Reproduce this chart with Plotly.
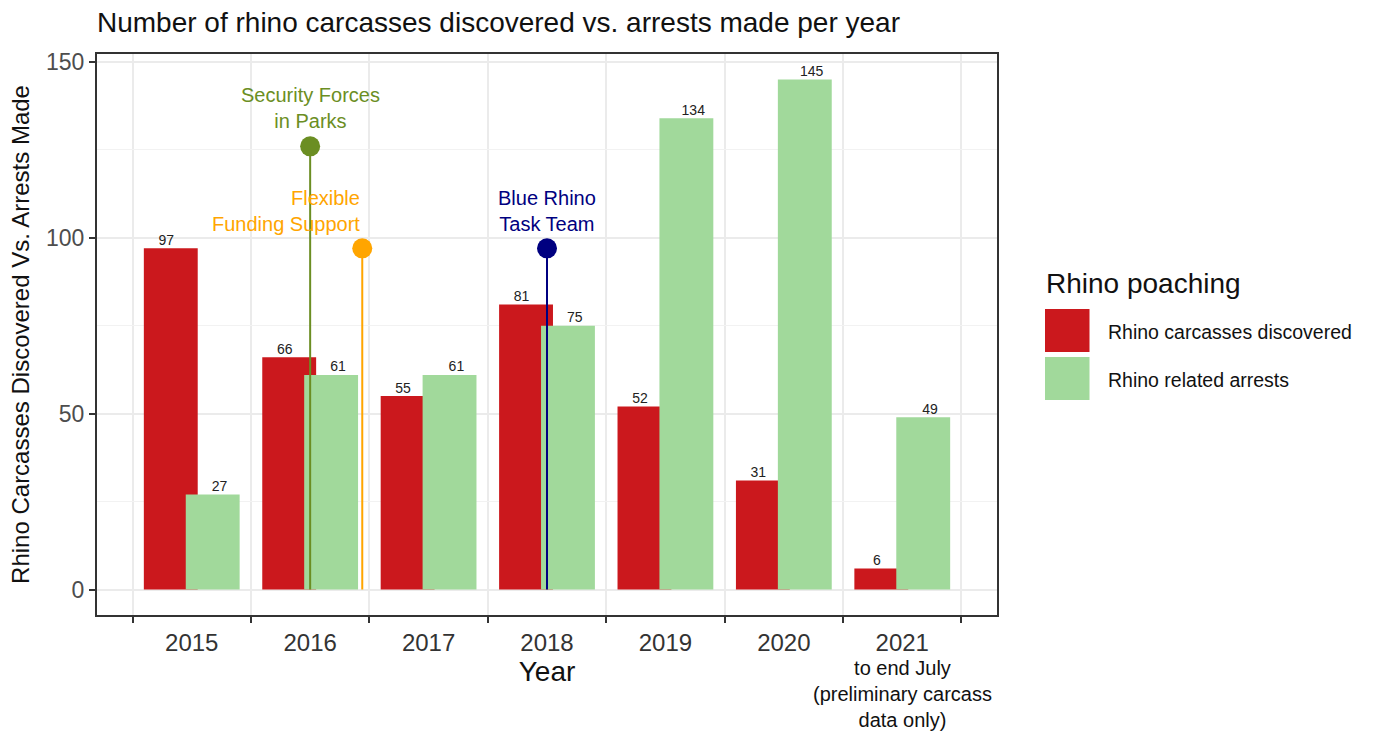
import plotly.graph_objects as go

# ---------------- data ----------------
years = [2015, 2016, 2017, 2018, 2019, 2020, 2021]
year_labels = ["2015", "2016", "2017", "2018", "2019", "2020", "2021"]
carcasses = [97, 66, 55, 81, 52, 31, 6]
arrests = [27, 61, 61, 75, 134, 145, 49]
note_2021 = "to end July<br>(preliminary carcass<br>data only)"

series_names = ["Rhino carcasses discovered", "Rhino related arrests"]
series_colors = ["#CB181D", "#A1D99B"]
legend_title = "Rhino poaching"

event_names = ["Security Forces<br>in Parks", "Flexible<br>Funding Support", "Blue Rhino<br>Task Team"]
event_x = [2016.0, 2016.44, 2018.0]
event_y = [126, 97, 97]
event_label_y = [136.8, 107.7, 107.7]
event_anchor = ["center", "right", "center"]
event_colors = ["#6B8E23", "#FFA500", "#000080"]

y_ticks = [0, 50, 100, 150]
y_minor = [25, 75, 125]
x_bounds = [2014.5 + i for i in range(8)]

title = "Number of rhino carcasses discovered vs. arrests made per year"
x_title = "Year"
y_title = "Rhino Carcasses Discovered Vs. Arrests Made"

# ---------------- layout constants ----------------
W, H = 1394, 733
L, R, T, B = 97, 997, 54, 615
FONT = "Liberation Sans, Arial, sans-serif"
BAR_W = 0.455
DODGE = 0.177
LABEL_DX = [-0.215, 0.235]


def px_x(p):
    return (p - L) / (R - L)


def px_y(p):
    return (B - p) / (B - T)


fig = go.Figure()

for vals, col, sgn in zip([carcasses, arrests], series_colors, [-1, 1]):
    fig.add_trace(go.Bar(
        x=years, y=vals, width=BAR_W, offset=sgn * DODGE - BAR_W / 2,
        marker=dict(color=col, line=dict(width=0)), opacity=1, showlegend=False,
        hoverinfo="skip"))

for vals, dx in zip([carcasses, arrests], LABEL_DX):
    fig.add_trace(go.Scatter(
        x=[yr + dx for yr in years], y=vals, mode="text",
        text=[str(v) for v in vals], textposition="top center",
        textfont=dict(size=14, color="#222222", family=FONT),
        showlegend=False, hoverinfo="skip"))

for ex, ey, col in zip(event_x, event_y, event_colors):
    fig.add_trace(go.Scatter(
        x=[ex, ex], y=[0, ey], mode="lines",
        line=dict(color=col, width=2),
        showlegend=False, hoverinfo="skip"))
    fig.add_trace(go.Scatter(
        x=[ex], y=[ey], mode="markers",
        marker=dict(size=20, color=col, opacity=1, line=dict(width=0)),
        showlegend=False, hoverinfo="skip"))

annotations = []
for name, ex, ly, anc, col in zip(event_names, event_x, event_label_y, event_anchor, event_colors):
    annotations.append(dict(
        x=ex, y=ly, xref="x", yref="y", text=name, showarrow=False,
        xanchor=anc, yanchor="middle", align=anc,
        font=dict(size=20, color=col, family=FONT)))

annotations.append(dict(
    x=years[-1], y=0, xref="x", yref="paper", yshift=-(655 - B),
    text=note_2021, showarrow=False, xanchor="center", yanchor="top",
    align="center", font=dict(size=20, color="#111111", family=FONT)))

# custom legend
shapes = []
annotations.append(dict(
    x=px_x(1044), y=px_y(283), xref="paper", yref="paper", text=legend_title,
    showarrow=False, xanchor="left", yanchor="middle",
    font=dict(size=28, color="#111111", family=FONT)))
for i, (name, col) in enumerate(zip(series_names, series_colors)):
    top = 309 + i * 48
    shapes.append(dict(type="rect", xref="paper", yref="paper",
                       x0=px_x(1045), x1=px_x(1089.5),
                       y0=px_y(top + 43), y1=px_y(top),
                       fillcolor=col, line=dict(width=0)))
    annotations.append(dict(
        x=px_x(1106), y=px_y(top + 22.5), xref="paper", yref="paper", text=name,
        showarrow=False, xanchor="left", yanchor="middle",
        font=dict(size=19.5, color="#111111", family=FONT)))

fig.update_layout(
    width=W, height=H,
    margin=dict(l=L, r=W - R, t=T, b=H - B, autoexpand=False),
    paper_bgcolor="white", plot_bgcolor="white",
    barmode="overlay",
    hovermode=False,
    font=dict(family=FONT, color="#111111"),
    title=dict(text=title, x=0, xref="paper", xanchor="left",
               y=1 - 22 / H, yref="container", yanchor="middle", automargin=False,
               font=dict(size=28, color="#111111", family=FONT)),
    xaxis=dict(
        range=[2014.2, 2021.8], tickmode="array", tickvals=years, ticktext=year_labels,
        ticks="", showgrid=False, zeroline=False, automargin=False,
        ticklabelstandoff=5,
        showline=True, linecolor="#333333", linewidth=2, mirror=True,
        tickfont=dict(size=24, color="#333333", family=FONT),
        minor=dict(tickmode="array", tickvals=x_bounds, ticks="outside", ticklen=6,
                   tickwidth=1.5, tickcolor="#333333",
                   showgrid=True, gridcolor="#EBEBEB", gridwidth=1.5),
        title=dict(text=x_title, standoff=4,
                   font=dict(size=28, color="#111111", family=FONT))),
    yaxis=dict(
        range=[-7.25, 152.25], tickmode="array", tickvals=y_ticks,
        ticks="outside", ticklen=6, tickwidth=1.5, tickcolor="#333333",
        showgrid=True, gridcolor="#EBEBEB", gridwidth=1.5, zeroline=False,
        showline=True, linecolor="#333333", linewidth=2, mirror=True, automargin=False,
        tickfont=dict(size=23, color="#4D4D4D", family=FONT),
        minor=dict(tickmode="array", tickvals=y_minor, ticks="",
                   showgrid=True, gridcolor="#F2F2F2", gridwidth=1),
        title=dict(text=y_title, standoff=10,
                   font=dict(size=24, color="#111111", family=FONT))),
    shapes=shapes,
    annotations=annotations,
)

fig.write_html("out.html", config={"displayModeBar": False},
               post_script="document.body.style.margin='0';document.body.style.overflow='hidden';")
